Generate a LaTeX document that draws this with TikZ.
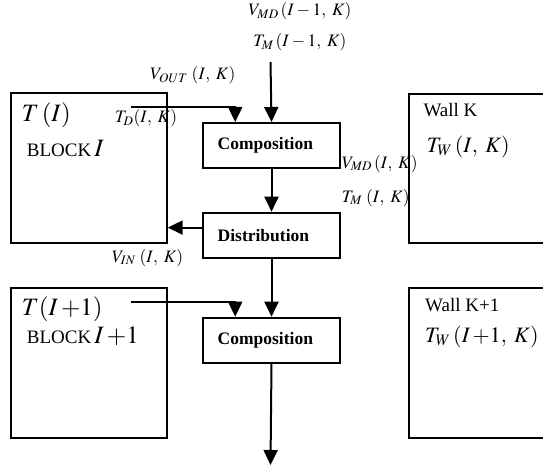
\documentclass[tikz,border=0pt]{standalone}
\usepackage{mathptmx}
\usepackage{fontspec}
\setmainfont{Liberation Serif}
\usetikzlibrary{arrows.meta,calc}
\DeclareMathSizes{17.5}{17.5}{13}{10}
\DeclareMathSizes{19}{19}{14}{10}
\DeclareMathSizes{25}{25}{18}{13}
\DeclareMathSizes{22}{22}{16}{12}
\newcommand{\labsz}{\fontsize{17.5}{20}\selectfont}
\newcommand{\bigsz}{\fontsize{25}{28}\selectfont}
\newcommand{\midsz}{\fontsize{22}{26}\selectfont}
\newcommand{\romsz}{\fontsize{19}{22}\selectfont}
\newcommand{\cm}{,\;}
\begin{document}
\begin{tikzpicture}[x=1pt,y=-1pt,
  box/.style={draw,line width=2pt,rectangle,inner sep=0pt},
  proc/.style={box,minimum width=137.6pt,minimum height=44.8pt,align=left,text width=107.6pt,inner xsep=15pt,font=\fontsize{17.5}{20}\selectfont\bfseries},
  conn/.style={line width=2pt},
  arr/.style={conn,-{Triangle[length=15pt,width=14pt]}},
  txt/.style={inner sep=0pt,anchor=base west,font=\labsz}
]
\useasboundingbox (0,0) rectangle (543,468);
% blocks
\node[box,anchor=north west,minimum width=156pt,minimum height=149.4pt] (bI) at (9.7,92.3) {};
\node[box,anchor=north west,minimum width=156pt,minimum height=149.2pt] (bI1) at (9.7,287.3) {};
\node[box,anchor=north west,minimum width=160pt,minimum height=149pt] (wK) at (408.3,92.7) {};
\node[box,anchor=north west,minimum width=160pt,minimum height=149.2pt] (wK1) at (408.3,287.3) {};
% process boxes
\node[proc,anchor=north west] (c1) at (201.7,122) {Composition};
\node[proc,anchor=north west] (d1) at (201.7,211.7) {Distribution};
\node[proc,anchor=north west] (c2) at (201.7,316.7) {Composition};
% free ends
\coordinate (top) at (270.5,62);
\coordinate (tdst) at (130.5,106.7);
\coordinate (t1st) at (130.5,301.7);
\coordinate (out) at (270.5,465);
% connectors
\draw[arr] (top) -- (c1.north);
\draw[arr] (tdst) -| ($(c1.north west)+(33.5,0)$);
\draw[arr] (c1.south) -- (d1.north);
\draw[arr] ([yshift=7.5pt]d1.west) -- ([yshift=7.5pt]d1.west -| bI.east);
\draw[arr] (d1.south) -- (c2.north);
\draw[arr] (t1st) -| ($(c2.north west)+(33.5,0)$);
\draw[arr] (c2.south) -- (out);
% labels
\node[txt,anchor=base] (l1) at (300,16) {$V_{MD}\,(I-1\cm K)$};
\node[txt,anchor=base] (l2) at (300,47) {$T_{M}\,(I-1\cm K)$};
\node[txt] (l3) at (150,80) {$V_{OUT}\;(I\cm K)$};
\node[txt] (l4) at (115,122.5) {$T_{D}(I\cm K)$};
\node[txt,font=\bigsz] (l5) at (21.7,121.7) {$T\,(I)$};
\node[txt,font=\romsz] (l6) at (26.7,157) {BLOCK\,{\bigsz$I$}};
\node[txt] (l7) at (341.7,168) {$V_{MD}\,(I\cm K)$};
\node[txt] (l8) at (341.7,202) {$T_{M}\;(I\cm K)$};
\node[txt] (l9) at (111.7,262) {$V_{IN}\;(I\cm K)$};
\node[txt,font=\romsz] (l10) at (423.3,117) {Wall K};
\node[txt,font=\midsz] (l11) at (426.7,152) {$T_{W}\,(I\cm K)$};
\node[txt,font=\bigsz] (l12) at (21.7,315) {$T(I\,{+}1)$};
\node[txt,font=\romsz] (l13) at (26.7,343) {BLOCK\,{\bigsz$I\,{+}1$}};
\node[txt,font=\romsz] (l14) at (425,311) {Wall K+1};
\node[txt,font=\midsz] (l15) at (425,342) {$T_{W}\,(I\,{+}1\cm K)$};
\end{tikzpicture}
\end{document}
